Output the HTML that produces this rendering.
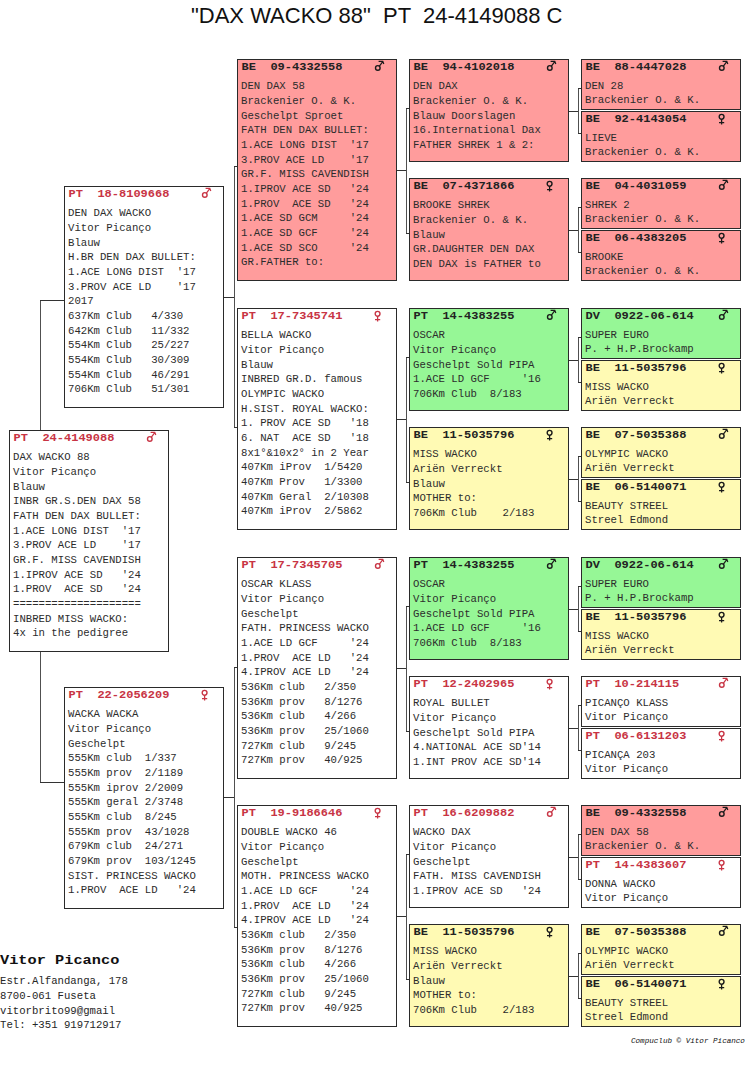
<!DOCTYPE html><html><head><meta charset="utf-8"><style>
html,body{margin:0;padding:0;background:#fff;width:750px;height:1077px;overflow:hidden;position:relative}
.b{position:absolute;width:160px;box-sizing:border-box;border:1px solid #2a2a2a;font-family:"Liberation Mono",monospace;font-size:10.67px;color:#2c2c2c}
.b div{position:absolute;left:3px;white-space:pre;line-height:12px}
.b .hd{left:3.6px;font-weight:bold;color:#222;text-shadow:none;font-size:12px;transform:scaleY(0.87);transform-origin:0 9.2px}
.red .hd{color:#c83444}
.sy{position:absolute;left:136px;top:0px}
.ln{position:absolute;background:#333}
.lv{background:#505050}
.title{position:absolute;font-family:"Liberation Sans",sans-serif;font-size:22px;line-height:26px;white-space:pre;color:#111}
.ft{position:absolute;font-family:"Liberation Mono",monospace;white-space:pre;color:#262626}
</style></head><body>
<div class="title" style="left:191px;top:3px">"DAX WACKO 88"  PT  24-4149088 C</div>
<div class="ln lv" style="left:40px;top:300px;width:1px;height:130px"></div><div class="ln" style="left:40px;top:300px;width:24px;height:1px"></div><div class="ln lv" style="left:40px;top:652px;width:1px;height:131px"></div><div class="ln" style="left:40px;top:782px;width:24px;height:1px"></div><div class="ln" style="left:224px;top:297px;width:10px;height:1px"></div><div class="ln lv" style="left:234px;top:166px;width:1px;height:262px"></div><div class="ln" style="left:234px;top:166px;width:3px;height:1px"></div><div class="ln" style="left:234px;top:427px;width:3px;height:1px"></div><div class="ln" style="left:224px;top:797px;width:10px;height:1px"></div><div class="ln lv" style="left:234px;top:667px;width:1px;height:261px"></div><div class="ln" style="left:234px;top:667px;width:3px;height:1px"></div><div class="ln" style="left:234px;top:927px;width:3px;height:1px"></div><div class="ln" style="left:397px;top:170px;width:9px;height:1px"></div><div class="ln lv" style="left:406px;top:108px;width:1px;height:126px"></div><div class="ln" style="left:406px;top:108px;width:3px;height:1px"></div><div class="ln" style="left:406px;top:233px;width:3px;height:1px"></div><div class="ln" style="left:397px;top:419px;width:9px;height:1px"></div><div class="ln lv" style="left:406px;top:357px;width:1px;height:126px"></div><div class="ln" style="left:406px;top:357px;width:3px;height:1px"></div><div class="ln" style="left:406px;top:482px;width:3px;height:1px"></div><div class="ln" style="left:397px;top:668px;width:9px;height:1px"></div><div class="ln lv" style="left:406px;top:606px;width:1px;height:126px"></div><div class="ln" style="left:406px;top:606px;width:3px;height:1px"></div><div class="ln" style="left:406px;top:731px;width:3px;height:1px"></div><div class="ln" style="left:397px;top:916px;width:9px;height:1px"></div><div class="ln lv" style="left:406px;top:854px;width:1px;height:126px"></div><div class="ln" style="left:406px;top:854px;width:3px;height:1px"></div><div class="ln" style="left:406px;top:979px;width:3px;height:1px"></div><div class="ln" style="left:569px;top:111px;width:9px;height:1px"></div><div class="ln lv" style="left:578px;top:88px;width:1px;height:46px"></div><div class="ln" style="left:578px;top:88px;width:3px;height:1px"></div><div class="ln" style="left:578px;top:133px;width:3px;height:1px"></div><div class="ln" style="left:569px;top:230px;width:9px;height:1px"></div><div class="ln lv" style="left:578px;top:207px;width:1px;height:46px"></div><div class="ln" style="left:578px;top:207px;width:3px;height:1px"></div><div class="ln" style="left:578px;top:252px;width:3px;height:1px"></div><div class="ln" style="left:569px;top:360px;width:9px;height:1px"></div><div class="ln lv" style="left:578px;top:337px;width:1px;height:46px"></div><div class="ln" style="left:578px;top:337px;width:3px;height:1px"></div><div class="ln" style="left:578px;top:382px;width:3px;height:1px"></div><div class="ln" style="left:569px;top:479px;width:9px;height:1px"></div><div class="ln lv" style="left:578px;top:456px;width:1px;height:46px"></div><div class="ln" style="left:578px;top:456px;width:3px;height:1px"></div><div class="ln" style="left:578px;top:501px;width:3px;height:1px"></div><div class="ln" style="left:569px;top:609px;width:9px;height:1px"></div><div class="ln lv" style="left:578px;top:586px;width:1px;height:46px"></div><div class="ln" style="left:578px;top:586px;width:3px;height:1px"></div><div class="ln" style="left:578px;top:631px;width:3px;height:1px"></div><div class="ln" style="left:569px;top:728px;width:9px;height:1px"></div><div class="ln lv" style="left:578px;top:705px;width:1px;height:46px"></div><div class="ln" style="left:578px;top:705px;width:3px;height:1px"></div><div class="ln" style="left:578px;top:750px;width:3px;height:1px"></div><div class="ln" style="left:569px;top:857px;width:9px;height:1px"></div><div class="ln lv" style="left:578px;top:834px;width:1px;height:46px"></div><div class="ln" style="left:578px;top:834px;width:3px;height:1px"></div><div class="ln" style="left:578px;top:879px;width:3px;height:1px"></div><div class="ln" style="left:569px;top:976px;width:9px;height:1px"></div><div class="ln lv" style="left:578px;top:953px;width:1px;height:46px"></div><div class="ln" style="left:578px;top:953px;width:3px;height:1px"></div><div class="ln" style="left:578px;top:998px;width:3px;height:1px"></div>
<div class="b red" style="left:9px;top:430px;height:222px;background:#ffffff"><div class="hd" style="top:0.61px">PT  24-4149088</div><svg class="sy" width="14" height="14" viewBox="0 0 14 14"><circle cx="3.8" cy="7.9" r="2.3" fill="none" stroke="#c83444" stroke-width="1.4"/><path d="M5.4 6.2 L8.6 1.8 M4.6 1.4 H8.8 L9.8 4" fill="none" stroke="#c83444" stroke-width="1.2"/></svg><div style="top:20.36px">DAX WACKO 88</div><div style="top:35.03px">Vitor Picanço</div><div style="top:49.70px">Blauw</div><div style="top:64.37px">INBR GR.S.DEN DAX 58</div><div style="top:79.04px">FATH DEN DAX BULLET:</div><div style="top:93.71px">1.ACE LONG DIST  &#x27;17</div><div style="top:108.38px">3.PROV ACE LD    &#x27;17</div><div style="top:123.05px">GR.F. MISS CAVENDISH</div><div style="top:137.72px">1.IPROV ACE SD   &#x27;24</div><div style="top:152.39px">1.PROV  ACE SD   &#x27;24</div><div style="top:167.06px">====================</div><div style="top:181.73px">INBRED MISS WACKO:</div><div style="top:196.40px">4x in the pedigree</div></div>
<div class="b red" style="left:64px;top:186px;height:222px;background:#ffffff"><div class="hd" style="top:0.61px">PT  18-8109668</div><svg class="sy" width="14" height="14" viewBox="0 0 14 14"><circle cx="3.8" cy="7.9" r="2.3" fill="none" stroke="#c83444" stroke-width="1.4"/><path d="M5.4 6.2 L8.6 1.8 M4.6 1.4 H8.8 L9.8 4" fill="none" stroke="#c83444" stroke-width="1.2"/></svg><div style="top:20.36px">DEN DAX WACKO</div><div style="top:35.03px">Vitor Picanço</div><div style="top:49.70px">Blauw</div><div style="top:64.37px">H.BR DEN DAX BULLET:</div><div style="top:79.04px">1.ACE LONG DIST  &#x27;17</div><div style="top:93.71px">3.PROV ACE LD    &#x27;17</div><div style="top:108.38px">2017</div><div style="top:123.05px">637Km Club   4/330</div><div style="top:137.72px">642Km Club   11/332</div><div style="top:152.39px">554Km Club   25/227</div><div style="top:167.06px">554Km Club   30/309</div><div style="top:181.73px">554Km Club   46/291</div><div style="top:196.40px">706Km Club   51/301</div></div>
<div class="b red" style="left:64px;top:687px;height:222px;background:#ffffff"><div class="hd" style="top:0.61px">PT  22-2056209</div><svg class="sy" width="14" height="14" viewBox="0 0 14 14"><circle cx="3.6" cy="4.8" r="2.4" fill="none" stroke="#c83444" stroke-width="1.4"/><path d="M3.6 7.2 V12.6 M1 10.7 H6.2" fill="none" stroke="#c83444" stroke-width="1.3"/></svg><div style="top:20.36px">WACKA WACKA</div><div style="top:35.03px">Vitor Picanço</div><div style="top:49.70px">Geschelpt</div><div style="top:64.37px">555Km club  1/337</div><div style="top:79.04px">555Km prov  2/1189</div><div style="top:93.71px">555Km iprov 2/2009</div><div style="top:108.38px">555Km geral 2/3748</div><div style="top:123.05px">555Km club  8/245</div><div style="top:137.72px">555Km prov  43/1028</div><div style="top:152.39px">679Km club  24/271</div><div style="top:167.06px">679Km prov  103/1245</div><div style="top:181.73px">SIST. PRINCESS WACKO</div><div style="top:196.40px">1.PROV  ACE LD   &#x27;24</div></div>
<div class="b" style="left:237px;top:59px;height:222px;background:#ff9c9c"><div class="hd" style="top:0.61px">BE  09-4332558</div><svg class="sy" width="14" height="14" viewBox="0 0 14 14"><circle cx="3.8" cy="7.9" r="2.3" fill="none" stroke="#1a1a1a" stroke-width="1.4"/><path d="M5.4 6.2 L8.6 1.8 M4.6 1.4 H8.8 L9.8 4" fill="none" stroke="#1a1a1a" stroke-width="1.2"/></svg><div style="top:20.36px">DEN DAX 58</div><div style="top:35.03px">Brackenier O. &amp; K.</div><div style="top:49.70px">Geschelpt Sproet</div><div style="top:64.37px">FATH DEN DAX BULLET:</div><div style="top:79.04px">1.ACE LONG DIST  &#x27;17</div><div style="top:93.71px">3.PROV ACE LD    &#x27;17</div><div style="top:108.38px">GR.F. MISS CAVENDISH</div><div style="top:123.05px">1.IPROV ACE SD   &#x27;24</div><div style="top:137.72px">1.PROV  ACE SD   &#x27;24</div><div style="top:152.39px">1.ACE SD GCM     &#x27;24</div><div style="top:167.06px">1.ACE SD GCF     &#x27;24</div><div style="top:181.73px">1.ACE SD SCO     &#x27;24</div><div style="top:196.40px">GR.FATHER to:</div></div>
<div class="b red" style="left:237px;top:308px;height:222px;background:#ffffff"><div class="hd" style="top:0.61px">PT  17-7345741</div><svg class="sy" width="14" height="14" viewBox="0 0 14 14"><circle cx="3.6" cy="4.8" r="2.4" fill="none" stroke="#c83444" stroke-width="1.4"/><path d="M3.6 7.2 V12.6 M1 10.7 H6.2" fill="none" stroke="#c83444" stroke-width="1.3"/></svg><div style="top:20.36px">BELLA WACKO</div><div style="top:35.03px">Vitor Picanço</div><div style="top:49.70px">Blauw</div><div style="top:64.37px">INBRED GR.D. famous</div><div style="top:79.04px">OLYMPIC WACKO</div><div style="top:93.71px">H.SIST. ROYAL WACKO:</div><div style="top:108.38px">1. PROV ACE SD   &#x27;18</div><div style="top:123.05px">6. NAT  ACE SD   &#x27;18</div><div style="top:137.72px">8x1°&amp;10x2° in 2 Year</div><div style="top:152.39px">407Km iProv  1/5420</div><div style="top:167.06px">407Km Prov   1/3300</div><div style="top:181.73px">407Km Geral  2/10308</div><div style="top:196.40px">407Km iProv  2/5862</div></div>
<div class="b red" style="left:237px;top:557px;height:222px;background:#ffffff"><div class="hd" style="top:0.61px">PT  17-7345705</div><svg class="sy" width="14" height="14" viewBox="0 0 14 14"><circle cx="3.8" cy="7.9" r="2.3" fill="none" stroke="#c83444" stroke-width="1.4"/><path d="M5.4 6.2 L8.6 1.8 M4.6 1.4 H8.8 L9.8 4" fill="none" stroke="#c83444" stroke-width="1.2"/></svg><div style="top:20.36px">OSCAR KLASS</div><div style="top:35.03px">Vitor Picanço</div><div style="top:49.70px">Geschelpt</div><div style="top:64.37px">FATH. PRINCESS WACKO</div><div style="top:79.04px">1.ACE LD GCF     &#x27;24</div><div style="top:93.71px">1.PROV  ACE LD   &#x27;24</div><div style="top:108.38px">4.IPROV ACE LD   &#x27;24</div><div style="top:123.05px">536Km club   2/350</div><div style="top:137.72px">536Km prov   8/1276</div><div style="top:152.39px">536Km club   4/266</div><div style="top:167.06px">536Km prov   25/1060</div><div style="top:181.73px">727Km club   9/245</div><div style="top:196.40px">727Km prov   40/925</div></div>
<div class="b red" style="left:237px;top:805px;height:222px;background:#ffffff"><div class="hd" style="top:0.61px">PT  19-9186646</div><svg class="sy" width="14" height="14" viewBox="0 0 14 14"><circle cx="3.6" cy="4.8" r="2.4" fill="none" stroke="#c83444" stroke-width="1.4"/><path d="M3.6 7.2 V12.6 M1 10.7 H6.2" fill="none" stroke="#c83444" stroke-width="1.3"/></svg><div style="top:20.36px">DOUBLE WACKO 46</div><div style="top:35.03px">Vitor Picanço</div><div style="top:49.70px">Geschelpt</div><div style="top:64.37px">MOTH. PRINCESS WACKO</div><div style="top:79.04px">1.ACE LD GCF     &#x27;24</div><div style="top:93.71px">1.PROV  ACE LD   &#x27;24</div><div style="top:108.38px">4.IPROV ACE LD   &#x27;24</div><div style="top:123.05px">536Km club   2/350</div><div style="top:137.72px">536Km prov   8/1276</div><div style="top:152.39px">536Km club   4/266</div><div style="top:167.06px">536Km prov   25/1060</div><div style="top:181.73px">727Km club   9/245</div><div style="top:196.40px">727Km prov   40/925</div></div>
<div class="b" style="left:409px;top:59px;height:103px;background:#ff9c9c"><div class="hd" style="top:0.61px">BE  94-4102018</div><svg class="sy" width="14" height="14" viewBox="0 0 14 14"><circle cx="3.8" cy="7.9" r="2.3" fill="none" stroke="#1a1a1a" stroke-width="1.4"/><path d="M5.4 6.2 L8.6 1.8 M4.6 1.4 H8.8 L9.8 4" fill="none" stroke="#1a1a1a" stroke-width="1.2"/></svg><div style="top:20.36px">DEN DAX</div><div style="top:35.03px">Brackenier O. &amp; K.</div><div style="top:49.70px">Blauw Doorslagen</div><div style="top:64.37px">16.International Dax</div><div style="top:79.04px">FATHER SHREK 1 &amp; 2:</div></div>
<div class="b" style="left:409px;top:178px;height:103px;background:#ff9c9c"><div class="hd" style="top:0.61px">BE  07-4371866</div><svg class="sy" width="14" height="14" viewBox="0 0 14 14"><circle cx="3.6" cy="4.8" r="2.4" fill="none" stroke="#1a1a1a" stroke-width="1.4"/><path d="M3.6 7.2 V12.6 M1 10.7 H6.2" fill="none" stroke="#1a1a1a" stroke-width="1.3"/></svg><div style="top:20.36px">BROOKE SHREK</div><div style="top:35.03px">Brackenier O. &amp; K.</div><div style="top:49.70px">Blauw</div><div style="top:64.37px">GR.DAUGHTER DEN DAX</div><div style="top:79.04px">DEN DAX is FATHER to</div></div>
<div class="b" style="left:409px;top:308px;height:103px;background:#96f796"><div class="hd" style="top:0.61px">PT  14-4383255</div><svg class="sy" width="14" height="14" viewBox="0 0 14 14"><circle cx="3.8" cy="7.9" r="2.3" fill="none" stroke="#1a1a1a" stroke-width="1.4"/><path d="M5.4 6.2 L8.6 1.8 M4.6 1.4 H8.8 L9.8 4" fill="none" stroke="#1a1a1a" stroke-width="1.2"/></svg><div style="top:20.36px">OSCAR</div><div style="top:35.03px">Vitor Picanço</div><div style="top:49.70px">Geschelpt Sold PIPA</div><div style="top:64.37px">1.ACE LD GCF     &#x27;16</div><div style="top:79.04px">706Km Club  8/183</div></div>
<div class="b" style="left:409px;top:427px;height:103px;background:#fffab4"><div class="hd" style="top:0.61px">BE  11-5035796</div><svg class="sy" width="14" height="14" viewBox="0 0 14 14"><circle cx="3.6" cy="4.8" r="2.4" fill="none" stroke="#1a1a1a" stroke-width="1.4"/><path d="M3.6 7.2 V12.6 M1 10.7 H6.2" fill="none" stroke="#1a1a1a" stroke-width="1.3"/></svg><div style="top:20.36px">MISS WACKO</div><div style="top:35.03px">Ariën Verreckt</div><div style="top:49.70px">Blauw</div><div style="top:64.37px">MOTHER to:</div><div style="top:79.04px">706Km Club    2/183</div></div>
<div class="b" style="left:409px;top:557px;height:103px;background:#96f796"><div class="hd" style="top:0.61px">PT  14-4383255</div><svg class="sy" width="14" height="14" viewBox="0 0 14 14"><circle cx="3.8" cy="7.9" r="2.3" fill="none" stroke="#1a1a1a" stroke-width="1.4"/><path d="M5.4 6.2 L8.6 1.8 M4.6 1.4 H8.8 L9.8 4" fill="none" stroke="#1a1a1a" stroke-width="1.2"/></svg><div style="top:20.36px">OSCAR</div><div style="top:35.03px">Vitor Picanço</div><div style="top:49.70px">Geschelpt Sold PIPA</div><div style="top:64.37px">1.ACE LD GCF     &#x27;16</div><div style="top:79.04px">706Km Club  8/183</div></div>
<div class="b red" style="left:409px;top:676px;height:103px;background:#ffffff"><div class="hd" style="top:0.61px">PT  12-2402965</div><svg class="sy" width="14" height="14" viewBox="0 0 14 14"><circle cx="3.6" cy="4.8" r="2.4" fill="none" stroke="#c83444" stroke-width="1.4"/><path d="M3.6 7.2 V12.6 M1 10.7 H6.2" fill="none" stroke="#c83444" stroke-width="1.3"/></svg><div style="top:20.36px">ROYAL BULLET</div><div style="top:35.03px">Vitor Picanço</div><div style="top:49.70px">Geschelpt Sold PIPA</div><div style="top:64.37px">4.NATIONAL ACE SD&#x27;14</div><div style="top:79.04px">1.INT PROV ACE SD&#x27;14</div></div>
<div class="b red" style="left:409px;top:805px;height:103px;background:#ffffff"><div class="hd" style="top:0.61px">PT  16-6209882</div><svg class="sy" width="14" height="14" viewBox="0 0 14 14"><circle cx="3.8" cy="7.9" r="2.3" fill="none" stroke="#c83444" stroke-width="1.4"/><path d="M5.4 6.2 L8.6 1.8 M4.6 1.4 H8.8 L9.8 4" fill="none" stroke="#c83444" stroke-width="1.2"/></svg><div style="top:20.36px">WACKO DAX</div><div style="top:35.03px">Vitor Picanço</div><div style="top:49.70px">Geschelpt</div><div style="top:64.37px">FATH. MISS CAVENDISH</div><div style="top:79.04px">1.IPROV ACE SD   &#x27;24</div></div>
<div class="b" style="left:409px;top:924px;height:103px;background:#fffab4"><div class="hd" style="top:0.61px">BE  11-5035796</div><svg class="sy" width="14" height="14" viewBox="0 0 14 14"><circle cx="3.6" cy="4.8" r="2.4" fill="none" stroke="#1a1a1a" stroke-width="1.4"/><path d="M3.6 7.2 V12.6 M1 10.7 H6.2" fill="none" stroke="#1a1a1a" stroke-width="1.3"/></svg><div style="top:20.36px">MISS WACKO</div><div style="top:35.03px">Ariën Verreckt</div><div style="top:49.70px">Blauw</div><div style="top:64.37px">MOTHER to:</div><div style="top:79.04px">706Km Club    2/183</div></div>
<div class="b" style="left:581px;top:59px;height:51px;background:#ff9c9c"><div class="hd" style="top:0.61px">BE  88-4447028</div><svg class="sy" width="14" height="14" viewBox="0 0 14 14"><circle cx="3.8" cy="7.9" r="2.3" fill="none" stroke="#1a1a1a" stroke-width="1.4"/><path d="M5.4 6.2 L8.6 1.8 M4.6 1.4 H8.8 L9.8 4" fill="none" stroke="#1a1a1a" stroke-width="1.2"/></svg><div style="top:20.36px">DEN 28</div><div style="top:33.86px">Brackenier O. &amp; K.</div></div>
<div class="b" style="left:581px;top:111px;height:51px;background:#ff9c9c"><div class="hd" style="top:0.61px">BE  92-4143054</div><svg class="sy" width="14" height="14" viewBox="0 0 14 14"><circle cx="3.6" cy="4.8" r="2.4" fill="none" stroke="#1a1a1a" stroke-width="1.4"/><path d="M3.6 7.2 V12.6 M1 10.7 H6.2" fill="none" stroke="#1a1a1a" stroke-width="1.3"/></svg><div style="top:20.36px">LIEVE</div><div style="top:33.86px">Brackenier O. &amp; K.</div></div>
<div class="b" style="left:581px;top:178px;height:51px;background:#ff9c9c"><div class="hd" style="top:0.61px">BE  04-4031059</div><svg class="sy" width="14" height="14" viewBox="0 0 14 14"><circle cx="3.8" cy="7.9" r="2.3" fill="none" stroke="#1a1a1a" stroke-width="1.4"/><path d="M5.4 6.2 L8.6 1.8 M4.6 1.4 H8.8 L9.8 4" fill="none" stroke="#1a1a1a" stroke-width="1.2"/></svg><div style="top:20.36px">SHREK 2</div><div style="top:33.86px">Brackenier O. &amp; K.</div></div>
<div class="b" style="left:581px;top:230px;height:51px;background:#ff9c9c"><div class="hd" style="top:0.61px">BE  06-4383205</div><svg class="sy" width="14" height="14" viewBox="0 0 14 14"><circle cx="3.6" cy="4.8" r="2.4" fill="none" stroke="#1a1a1a" stroke-width="1.4"/><path d="M3.6 7.2 V12.6 M1 10.7 H6.2" fill="none" stroke="#1a1a1a" stroke-width="1.3"/></svg><div style="top:20.36px">BROOKE</div><div style="top:33.86px">Brackenier O. &amp; K.</div></div>
<div class="b" style="left:581px;top:308px;height:51px;background:#96f796"><div class="hd" style="top:0.61px">DV  0922-06-614</div><svg class="sy" width="14" height="14" viewBox="0 0 14 14"><circle cx="3.8" cy="7.9" r="2.3" fill="none" stroke="#1a1a1a" stroke-width="1.4"/><path d="M5.4 6.2 L8.6 1.8 M4.6 1.4 H8.8 L9.8 4" fill="none" stroke="#1a1a1a" stroke-width="1.2"/></svg><div style="top:20.36px">SUPER EURO</div><div style="top:33.86px">P. + H.P.Brockamp</div></div>
<div class="b" style="left:581px;top:360px;height:51px;background:#fffab4"><div class="hd" style="top:0.61px">BE  11-5035796</div><svg class="sy" width="14" height="14" viewBox="0 0 14 14"><circle cx="3.6" cy="4.8" r="2.4" fill="none" stroke="#1a1a1a" stroke-width="1.4"/><path d="M3.6 7.2 V12.6 M1 10.7 H6.2" fill="none" stroke="#1a1a1a" stroke-width="1.3"/></svg><div style="top:20.36px">MISS WACKO</div><div style="top:33.86px">Ariën Verreckt</div></div>
<div class="b" style="left:581px;top:427px;height:51px;background:#fffab4"><div class="hd" style="top:0.61px">BE  07-5035388</div><svg class="sy" width="14" height="14" viewBox="0 0 14 14"><circle cx="3.8" cy="7.9" r="2.3" fill="none" stroke="#1a1a1a" stroke-width="1.4"/><path d="M5.4 6.2 L8.6 1.8 M4.6 1.4 H8.8 L9.8 4" fill="none" stroke="#1a1a1a" stroke-width="1.2"/></svg><div style="top:20.36px">OLYMPIC WACKO</div><div style="top:33.86px">Ariën Verreckt</div></div>
<div class="b" style="left:581px;top:479px;height:51px;background:#fffab4"><div class="hd" style="top:0.61px">BE  06-5140071</div><svg class="sy" width="14" height="14" viewBox="0 0 14 14"><circle cx="3.6" cy="4.8" r="2.4" fill="none" stroke="#1a1a1a" stroke-width="1.4"/><path d="M3.6 7.2 V12.6 M1 10.7 H6.2" fill="none" stroke="#1a1a1a" stroke-width="1.3"/></svg><div style="top:20.36px">BEAUTY STREEL</div><div style="top:33.86px">Streel Edmond</div></div>
<div class="b" style="left:581px;top:557px;height:51px;background:#96f796"><div class="hd" style="top:0.61px">DV  0922-06-614</div><svg class="sy" width="14" height="14" viewBox="0 0 14 14"><circle cx="3.8" cy="7.9" r="2.3" fill="none" stroke="#1a1a1a" stroke-width="1.4"/><path d="M5.4 6.2 L8.6 1.8 M4.6 1.4 H8.8 L9.8 4" fill="none" stroke="#1a1a1a" stroke-width="1.2"/></svg><div style="top:20.36px">SUPER EURO</div><div style="top:33.86px">P. + H.P.Brockamp</div></div>
<div class="b" style="left:581px;top:609px;height:51px;background:#fffab4"><div class="hd" style="top:0.61px">BE  11-5035796</div><svg class="sy" width="14" height="14" viewBox="0 0 14 14"><circle cx="3.6" cy="4.8" r="2.4" fill="none" stroke="#1a1a1a" stroke-width="1.4"/><path d="M3.6 7.2 V12.6 M1 10.7 H6.2" fill="none" stroke="#1a1a1a" stroke-width="1.3"/></svg><div style="top:20.36px">MISS WACKO</div><div style="top:33.86px">Ariën Verreckt</div></div>
<div class="b red" style="left:581px;top:676px;height:51px;background:#ffffff"><div class="hd" style="top:0.61px">PT  10-214115</div><svg class="sy" width="14" height="14" viewBox="0 0 14 14"><circle cx="3.8" cy="7.9" r="2.3" fill="none" stroke="#c83444" stroke-width="1.4"/><path d="M5.4 6.2 L8.6 1.8 M4.6 1.4 H8.8 L9.8 4" fill="none" stroke="#c83444" stroke-width="1.2"/></svg><div style="top:20.36px">PICANÇO KLASS</div><div style="top:33.86px">Vitor Picanço</div></div>
<div class="b red" style="left:581px;top:728px;height:51px;background:#ffffff"><div class="hd" style="top:0.61px">PT  06-6131203</div><svg class="sy" width="14" height="14" viewBox="0 0 14 14"><circle cx="3.6" cy="4.8" r="2.4" fill="none" stroke="#c83444" stroke-width="1.4"/><path d="M3.6 7.2 V12.6 M1 10.7 H6.2" fill="none" stroke="#c83444" stroke-width="1.3"/></svg><div style="top:20.36px">PICANÇA 203</div><div style="top:33.86px">Vitor Picanço</div></div>
<div class="b" style="left:581px;top:805px;height:51px;background:#ff9c9c"><div class="hd" style="top:0.61px">BE  09-4332558</div><svg class="sy" width="14" height="14" viewBox="0 0 14 14"><circle cx="3.8" cy="7.9" r="2.3" fill="none" stroke="#1a1a1a" stroke-width="1.4"/><path d="M5.4 6.2 L8.6 1.8 M4.6 1.4 H8.8 L9.8 4" fill="none" stroke="#1a1a1a" stroke-width="1.2"/></svg><div style="top:20.36px">DEN DAX 58</div><div style="top:33.86px">Brackenier O. &amp; K.</div></div>
<div class="b red" style="left:581px;top:857px;height:51px;background:#ffffff"><div class="hd" style="top:0.61px">PT  14-4383607</div><svg class="sy" width="14" height="14" viewBox="0 0 14 14"><circle cx="3.6" cy="4.8" r="2.4" fill="none" stroke="#c83444" stroke-width="1.4"/><path d="M3.6 7.2 V12.6 M1 10.7 H6.2" fill="none" stroke="#c83444" stroke-width="1.3"/></svg><div style="top:20.36px">DONNA WACKO</div><div style="top:33.86px">Vitor Picanço</div></div>
<div class="b" style="left:581px;top:924px;height:51px;background:#fffab4"><div class="hd" style="top:0.61px">BE  07-5035388</div><svg class="sy" width="14" height="14" viewBox="0 0 14 14"><circle cx="3.8" cy="7.9" r="2.3" fill="none" stroke="#1a1a1a" stroke-width="1.4"/><path d="M5.4 6.2 L8.6 1.8 M4.6 1.4 H8.8 L9.8 4" fill="none" stroke="#1a1a1a" stroke-width="1.2"/></svg><div style="top:20.36px">OLYMPIC WACKO</div><div style="top:33.86px">Ariën Verreckt</div></div>
<div class="b" style="left:581px;top:976px;height:51px;background:#fffab4"><div class="hd" style="top:0.61px">BE  06-5140071</div><svg class="sy" width="14" height="14" viewBox="0 0 14 14"><circle cx="3.6" cy="4.8" r="2.4" fill="none" stroke="#1a1a1a" stroke-width="1.4"/><path d="M3.6 7.2 V12.6 M1 10.7 H6.2" fill="none" stroke="#1a1a1a" stroke-width="1.3"/></svg><div style="top:20.36px">BEAUTY STREEL</div><div style="top:33.86px">Streel Edmond</div></div>
<div class="ft" style="left:0px;top:951.7px;font-size:15.3px;font-weight:bold;line-height:17px;color:#111;transform:scaleY(0.85);transform-origin:0 12.6px">Vitor Picanco</div>
<div class="ft" style="left:0px;top:975.36px;font-size:10.67px;line-height:12px">Estr.Alfandanga, 178</div>
<div class="ft" style="left:0px;top:990.06px;font-size:10.67px;line-height:12px">8700-061 Fuseta</div>
<div class="ft" style="left:0px;top:1004.76px;font-size:10.67px;line-height:12px">vitorbrito99@gmail</div>
<div class="ft" style="left:0px;top:1019.46px;font-size:10.67px;line-height:12px">Tel: +351 919712917</div>
<div class="ft" style="left:631px;top:1037px;font-size:7.6px;font-style:italic;line-height:9px;color:#111">Compuclub © Vitor Picanco</div>
</body></html>
